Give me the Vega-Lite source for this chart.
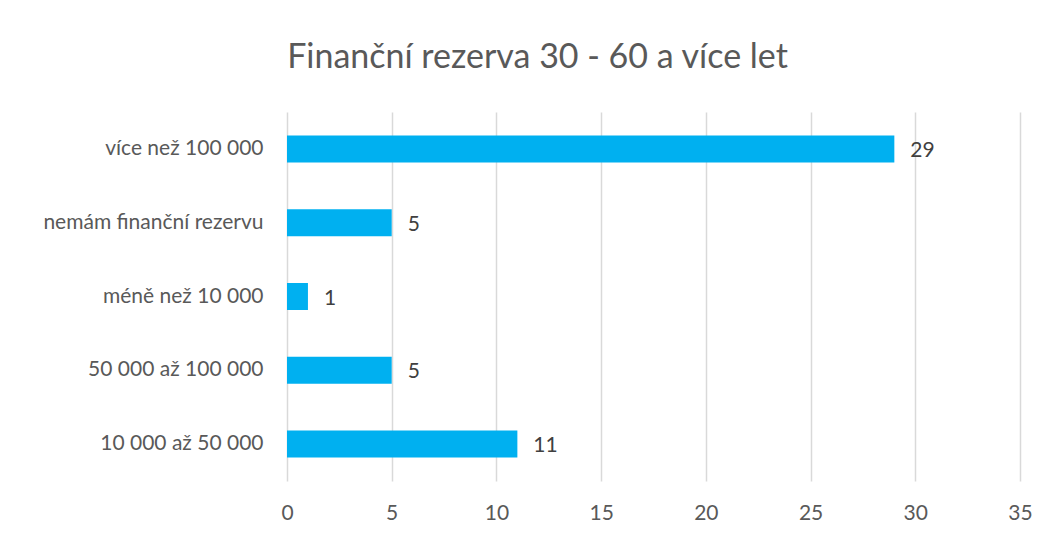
{
  "$schema": "https://vega.github.io/schema/vega-lite/v6.json",
  "autosize": "none",
  "width": 733,
  "height": 369,
  "padding": {"left": 287, "top": 112, "right": 27, "bottom": 55},
  "background": "white",
  "title": {
    "text": "Finanční rezerva 30 - 60 a více let",
    "anchor": "middle",
    "frame": "group",
    "dx": -116,
    "offset": 37,
    "font": "Lato",
    "fontSize": 34,
    "fontWeight": "normal",
    "color": "#595959"
  },
  "data": {
    "values": [
      {"kategorie": "více než 100 000", "pocet": 29},
      {"kategorie": "nemám finanční rezervu", "pocet": 5},
      {"kategorie": "méně než 10 000", "pocet": 1},
      {"kategorie": "50 000 až 100 000", "pocet": 5},
      {"kategorie": "10 000 až 50 000", "pocet": 11}
    ]
  },
  "config": {
    "view": {"stroke": null},
    "axis": {"labelFont": "Lato", "labelColor": "#595959", "labelFontSize": 21, "labelLimit": 400}
  },
  "encoding": {
    "y": {
      "field": "kategorie",
      "type": "nominal",
      "sort": ["více než 100 000", "nemám finanční rezervu", "méně než 10 000", "50 000 až 100 000", "10 000 až 50 000"],
      "scale": {"paddingInner": 0, "paddingOuter": 0},
      "axis": {"title": null, "ticks": false, "domain": false, "grid": false, "labelPadding": 24}
    },
    "x": {
      "field": "pocet",
      "type": "quantitative",
      "scale": {"domain": [0, 35], "nice": false},
      "axis": {
        "title": null,
        "values": [0, 5, 10, 15, 20, 25, 30, 35],
        "ticks": false,
        "domain": false,
        "grid": true,
        "gridColor": "#D9D9D9",
        "gridWidth": 1.5,
        "labelFlush": false,
        "labelPadding": 21
      }
    }
  },
  "layer": [
    {"mark": {"type": "bar", "size": 27, "color": "#00B0F0"}},
    {
      "mark": {"type": "text", "align": "left", "dx": 16, "dy": 2, "font": "Lato", "fontSize": 21, "color": "#404040"},
      "encoding": {"text": {"field": "pocet", "type": "quantitative"}}
    }
  ]
}
